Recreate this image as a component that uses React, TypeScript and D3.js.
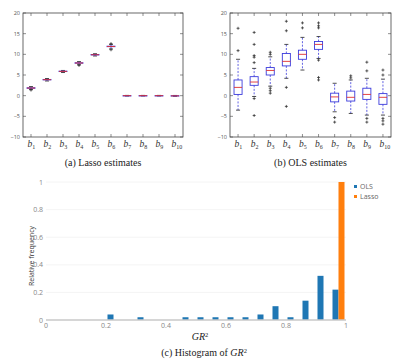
import React from "react";
import * as d3 from "d3";

// coefficient names b1..b10
const coefIdx = ["1", "2", "3", "4", "5", "6", "7", "8", "9", "10"];
const boxTicks = [20, 15, 10, 5, 0, -5, -10];

// Lasso estimate summaries per coefficient
const lassoLow = [1.5, 3.55, 5.6, 7.5, 9.6, 11.3, -0.08, -0.06, -0.06, -0.15];
const lassoQ1 = [1.78, 3.82, 5.83, 7.85, 9.85, 11.85, -0.02, -0.02, -0.02, -0.1];
const lassoMed = [1.85, 3.87, 5.88, 7.9, 9.9, 11.9, 0, 0, 0, -0.05];
const lassoQ3 = [1.92, 3.93, 5.93, 7.97, 9.97, 11.97, 0.02, 0.02, 0.02, 0.0];
const lassoHigh = [2.2, 4.15, 6.1, 8.25, 10.15, 12.4, 0.06, 0.06, 0.06, 0.05];
const lassoFliers: number[][] = [[1.35], [], [], [7.3], [], [11.1, 12.6], [], [], [], []];

// OLS estimate summaries per coefficient
const olsLow = [-3.5, -0.2, 2.3, 4.2, 6.2, 9.0, -3.9, -4.3, -4.7, -4.7];
const olsQ1 = [0.3, 2.5, 5.0, 7.2, 8.8, 11.2, -1.5, -1.3, -0.9, -2.1];
const olsMed = [2.0, 3.3, 6.1, 8.3, 10.0, 12.4, -0.3, -0.4, 0.3, -0.4];
const olsQ3 = [3.8, 4.6, 6.8, 10.2, 11.0, 13.1, 0.6, 1.1, 1.8, 0.5];
const olsHigh = [8.8, 6.6, 9.4, 12.4, 14.1, 14.3, 3.0, 3.8, 4.2, 4.0];
const olsFliers: number[][] = [
  [16.3, 10.9],
  [15.3, 12.4, 9.7, 9.3, 8.0, -0.7, -4.8],
  [10.5, 10.0, 1.8, 1.2, 0.6],
  [18.0, 15.7, 2.0, -2.6],
  [17.6, 16.4],
  [17.6, 16.9, 16.4, 8.6, 4.4, 3.8],
  [-5.3, -6.4],
  [4.8, 4.3],
  [8.1, 6.0, -5.5, -6.4],
  [6.2, 5.0, -5.5, -6.1, -6.9],
];

// GR^2 histogram (bin width 0.05)
const binStarts = [0.2, 0.3, 0.45, 0.5, 0.55, 0.6, 0.65, 0.7, 0.75, 0.8, 0.85, 0.9, 0.95];
const olsFreq = [0.04, 0.02, 0.02, 0.02, 0.02, 0.02, 0.02, 0.04, 0.1, 0.02, 0.14, 0.32, 0.22];
const lassoBins = [0.95];
const lassoFreq = [1];
const histXTicks = [0, 0.2, 0.4, 0.6, 0.8, 1];
const histYTicks = [0, 0.2, 0.4, 0.6, 0.8, 1];

const serif = "'Liberation Serif', 'DejaVu Serif', serif";
const sans = "'Open Sans', 'DejaVu Sans', sans-serif";

interface BoxProps {
  left: number;
  right: number;
  low: number[];
  q1: number[];
  med: number[];
  q3: number[];
  high: number[];
  fliers: number[][];
  caption: string;
}

function BoxPanel({ left, right, low, q1, med, q3, high, fliers, caption }: BoxProps) {
  const top = 13, bottom = 137;
  const y = d3.scaleLinear().domain([-10, 20]).range([bottom, top]);
  const x = d3.scaleBand<string>().domain(coefIdx).range([left, right]);
  const bw = x.bandwidth();
  const boxW = bw * 0.5;
  const capW = bw * 0.25;
  return (
    <g>
      <rect x={left} y={top} width={right - left} height={bottom - top} fill="none" stroke="#444" strokeWidth={0.8} />
      {boxTicks.map((t) => (
        <g key={t}>
          <line x1={left} x2={left + 3} y1={y(t)} y2={y(t)} stroke="#444" strokeWidth={0.6} />
          <line x1={right - 3} x2={right} y1={y(t)} y2={y(t)} stroke="#444" strokeWidth={0.6} />
          <text x={left - 3} y={y(t) + 2} textAnchor="end" fontSize={5.5} fill="#555" fontFamily={sans}>
            {t < 0 ? "\u2212" + Math.abs(t) : t}
          </text>
        </g>
      ))}
      {coefIdx.map((c, i) => {
        const cx = x(c)! + bw / 2;
        return (
          <g key={c}>
            <line x1={cx} x2={cx} y1={bottom} y2={bottom - 3} stroke="#444" strokeWidth={0.6} />
            <line x1={cx} x2={cx} y1={top} y2={top + 3} stroke="#444" strokeWidth={0.6} />
            <text x={cx - 3.5} y={bottom + 10} fontSize={9.5} fontStyle="italic" fill="#333" fontFamily={serif}>
              b<tspan fontSize={6} dy={2} fontStyle="normal">{c}</tspan>
            </text>
            {/* whiskers */}
            <line x1={cx} x2={cx} y1={y(q3[i])} y2={y(high[i])} stroke="#3b3bdc" strokeWidth={0.8} strokeDasharray="2,1.5" />
            <line x1={cx} x2={cx} y1={y(q1[i])} y2={y(low[i])} stroke="#3b3bdc" strokeWidth={0.8} strokeDasharray="2,1.5" />
            <line x1={cx - capW / 2} x2={cx + capW / 2} y1={y(high[i])} y2={y(high[i])} stroke="#222" strokeWidth={0.8} />
            <line x1={cx - capW / 2} x2={cx + capW / 2} y1={y(low[i])} y2={y(low[i])} stroke="#222" strokeWidth={0.8} />
            <rect
              x={cx - boxW / 2}
              y={y(q3[i])}
              width={boxW}
              height={Math.max(0.4, y(q1[i]) - y(q3[i]))}
              fill="none"
              stroke="#3b3bdc"
              strokeWidth={0.9}
            />
            <line x1={cx - boxW / 2} x2={cx + boxW / 2} y1={y(med[i])} y2={y(med[i])} stroke="#e03030" strokeWidth={0.9} />
            {fliers[i].map((f, k) => (
              <g key={k} stroke="#222" strokeWidth={0.7}>
                <line x1={cx - 1.5} x2={cx + 1.5} y1={y(f)} y2={y(f)} />
                <line x1={cx} x2={cx} y1={y(f) - 1.5} y2={y(f) + 1.5} />
              </g>
            ))}
          </g>
        );
      })}
      <text x={(left + right) / 2} y={166} textAnchor="middle" fontSize={10} fill="#222" fontFamily={serif}>
        {caption}
      </text>
    </g>
  );
}

function Histogram() {
  const x = d3.scaleLinear().domain([0, 1]).range([46, 346]);
  const y = d3.scaleLinear().domain([0, 1]).range([320, 182]);
  const binW = 0.05;
  const barPx = x(binW) - x(0);
  return (
    <g>
      {histYTicks.slice(1).map((t) => (
        <line key={t} x1={46} x2={346} y1={y(t)} y2={y(t)} stroke="#f1f1f1" strokeWidth={0.8} />
      ))}
      {histYTicks.map((t) => (
        <text key={t} x={43} y={y(t) + 2.5} textAnchor="end" fontSize={7} fill="#888" fontFamily={sans}>
          {t}
        </text>
      ))}
      {histXTicks.map((t) => (
        <text key={t} x={x(t)} y={328} textAnchor="middle" fontSize={7} fill="#888" fontFamily={sans}>
          {t}
        </text>
      ))}
      {binStarts.map((b, i) => (
        <rect key={b} x={x(b) + barPx * 0.1} y={y(olsFreq[i])} width={barPx * 0.4} height={y(0) - y(olsFreq[i])} fill="#1f77b4" />
      ))}
      {lassoBins.map((b, i) => (
        <rect key={b} x={x(b) + barPx * 0.5} y={y(lassoFreq[i])} width={barPx * 0.4} height={y(0) - y(lassoFreq[i])} fill="#ff7f0e" />
      ))}
      <line x1={46} x2={346} y1={320} y2={320} stroke="#c8c8c8" strokeWidth={1.3} />
      <text
        transform={`translate(34,${(y(0) + y(1)) / 2 + 5}) rotate(-90)`}
        textAnchor="middle"
        fontSize={7}
        fill="#333"
        fontFamily={sans}
      >
        Relative frequency
      </text>
      <text x={200} y={340} textAnchor="middle" fontSize={10} fontStyle="italic" fill="#222" fontFamily={serif}>
        GR<tspan fontSize={6.5} dy={-3.5} fontStyle="normal">2</tspan>
      </text>
      <text x={204} y={356} textAnchor="middle" fontSize={10} fill="#222" fontFamily={serif}>
        (c) Histogram of <tspan fontStyle="italic">GR</tspan>
        <tspan fontSize={6.5} dy={-3.5}>2</tspan>
      </text>
      {/* legend */}
      <rect x={354} y={185} width={3} height={3} fill="#1f77b4" />
      <text x={360} y={189} fontSize={7} fill="#666" fontFamily={sans}>OLS</text>
      <rect x={354} y={195} width={3} height={3} fill="#ff7f0e" />
      <text x={360} y={199} fontSize={7} fill="#666" fontFamily={sans}>Lasso</text>
    </g>
  );
}

export default function App() {
  return (
    <div style={{ position: "absolute", left: 0, top: 0 }}>
      <svg width={393} height={360} style={{ background: "#fff", display: "block" }}>
        <BoxPanel
          left={23}
          right={183}
          low={lassoLow}
          q1={lassoQ1}
          med={lassoMed}
          q3={lassoQ3}
          high={lassoHigh}
          fliers={lassoFliers}
          caption="(a) Lasso estimates"
        />
        <BoxPanel
          left={230}
          right={391}
          low={olsLow}
          q1={olsQ1}
          med={olsMed}
          q3={olsQ3}
          high={olsHigh}
          fliers={olsFliers}
          caption="(b) OLS estimates"
        />
        <Histogram />
      </svg>
    </div>
  );
}
